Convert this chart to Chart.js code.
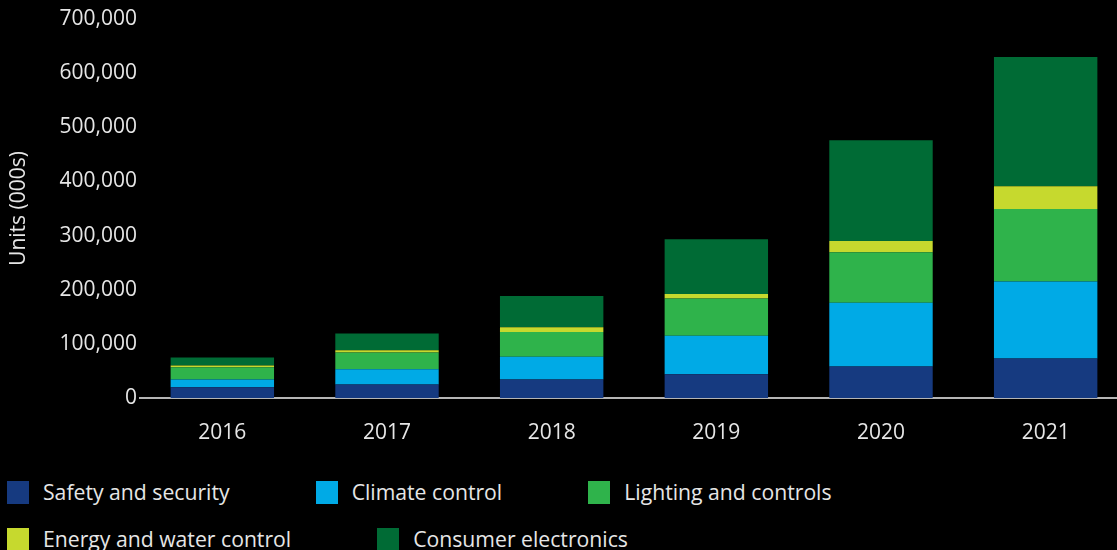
<!DOCTYPE html>
<html lang="en">
  <head>
    <meta charset="UTF-8" />
    <title>Smart home units by category</title>
    <script src="https://cdn.jsdelivr.net/npm/chart.js"></script>
    <style>
      html,
      body {
        margin: 0;
        background: #000;
        overflow: hidden;
        font-family: "Open Sans", sans-serif;
      }
      .wrap {
        position: relative;
        width: 1130px;
        height: 550px;
      }
      .chart-box {
        position: absolute;
        left: 0;
        top: 0;
        width: 1130px;
        height: 452px;
      }
      #legend {
        position: absolute;
        left: 7px;
        top: 481px;
        width: 900px;
        display: flex;
        flex-wrap: wrap;
        column-gap: 86px;
        row-gap: 24px;
      }
      .item {
        display: flex;
        align-items: center;
        color: #e6e6e6;
        font-size: 21.2px;
        height: 23px;
        white-space: nowrap;
      }
      .item span.box {
        width: 22px;
        height: 23px;
        margin-right: 14px;
      }
      .item span.txt {
        position: relative;
        top: -1px;
      }
    </style>
  </head>
  <body>
    <div class="wrap">
      <div class="chart-box">
        <canvas id="units"></canvas>
      </div>
      <div id="legend"></div>
    </div>

    <script>
      // values, units in thousands
      const years = ["2016", "2017", "2018", "2019", "2020", "2021"];
      const safety = [20000, 25000, 34000, 44000, 58000, 73000];
      const climate = [14000, 28000, 42000, 71000, 118000, 142000];
      const lighting = [23000, 31000, 46000, 69000, 93000, 134000];
      const energy = [3000, 4000, 8500, 8000, 21000, 42000];
      const consumer = [15000, 31000, 58000, 101000, 186000, 239000];

      const seriesNames = [
        "Safety and security",
        "Climate control",
        "Lighting and controls",
        "Energy and water control",
        "Consumer electronics",
      ];
      const seriesColors = ["#163a80", "#00aae6", "#2fb34b", "#c6d92e", "#006b35"];
      const seriesData = [safety, climate, lighting, energy, consumer];

      Chart.defaults.font.family = '"Open Sans", sans-serif';
      Chart.defaults.color = "#e6e6e6";

      const chart = new Chart(document.getElementById("units"), {
        type: "bar",
        data: {
          labels: years,
          datasets: seriesData.map((d, i) => ({
            label: seriesNames[i],
            data: d,
            backgroundColor: seriesColors[i],
            borderWidth: 0,
            barPercentage: 0.628,
            categoryPercentage: 1,
          })),
        },
        options: {
          responsive: true,
          maintainAspectRatio: false,
          animation: false,
          layout: { padding: { top: 19, right: 2, bottom: 0, left: 0 } },
          plugins: {
            legend: { display: false },
            tooltip: { enabled: false },
          },
          scales: {
            x: {
              stacked: true,
              grid: { display: false, drawTicks: false },
              border: { color: "#b5b5b5", width: 2 },
              ticks: { font: { size: 21 }, padding: 22, color: "#e6e6e6" },
              afterFit: (s) => {
                s.height = 54;
              },
            },
            y: {
              stacked: true,
              min: 0,
              max: 700000,
              grid: { display: false, drawTicks: false },
              border: { display: false },
              ticks: {
                stepSize: 100000,
                font: { size: 21 },
                padding: 3,
                color: "#e6e6e6",
                callback: (v) => v.toLocaleString("en-US"),
              },
              title: {
                display: true,
                text: "Units (000s)",
                font: { size: 21 },
                color: "#e6e6e6",
                padding: { top: 6, bottom: 0 },
              },
              afterFit: (s) => {
                s.width = 140;
              },
            },
          },
        },
      });

      // legend built from the chart's datasets
      const legend = document.getElementById("legend");
      chart.data.datasets.forEach((ds) => {
        const item = document.createElement("div");
        item.className = "item";
        const box = document.createElement("span");
        box.className = "box";
        box.style.background = ds.backgroundColor;
        const txt = document.createElement("span");
        txt.className = "txt";
        txt.textContent = ds.label;
        item.appendChild(box);
        item.appendChild(txt);
        legend.appendChild(item);
      });
    </script>
  </body>
</html>
